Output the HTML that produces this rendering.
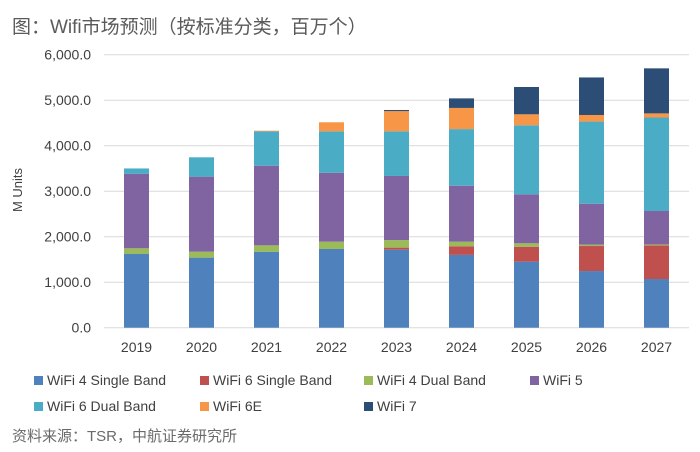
<!DOCTYPE html>
<html><head><meta charset="utf-8"><style>
body{margin:0;background:#fff;font-family:"Liberation Sans","Noto Sans CJK SC",sans-serif;}
#wrap{position:relative;width:700px;height:452px;overflow:hidden;}
.t{position:absolute;color:#595959;}
</style></head><body>
<div id="wrap">
<div class="t" style="left:12px;top:12px;font-size:19px;color:#5a5a5a;">图：Wifi市场预测（按标准分类，百万个）</div>
<svg id="chart" width="700" height="452" style="position:absolute;left:0;top:0"></svg>
<div class="t" style="left:12px;top:425px;font-size:15px;color:#6a6a6a;">资料来源：TSR，中航证券研究所</div>
</div>
<script>
const categories=["2019","2020","2021","2022","2023","2024","2025","2026","2027"];
const seriesNames=["WiFi 4 Single Band","WiFi 6 Single Band","WiFi 4 Dual Band","WiFi 5","WiFi 6 Dual Band","WiFi 6E","WiFi 7"];
const colors=["#4f81bd","#c0504d","#9bbb59","#8064a2","#4bacc6","#f79646","#2c4d75"];
const wifi4Single=[1620,1540,1670,1730,1715,1600,1450,1245,1070];
const wifi6Single=[0,0,0,0,45,190,330,550,740];
const wifi4Dual=[125,130,140,160,165,100,75,30,20];
const wifi5=[1635,1650,1750,1515,1410,1230,1075,900,735];
const wifi6Dual=[120,425,755,910,980,1245,1520,1805,2055];
const wifi6E=[0,0,15,200,445,465,240,145,90];
const wifi7=[0,0,0,0,25,210,600,825,990];
const yTicks=[0,1000,2000,3000,4000,5000,6000];
const yTickLabels=["0.0","1,000.0","2,000.0","3,000.0","4,000.0","5,000.0","6,000.0"];
const series=[wifi4Single,wifi6Single,wifi4Dual,wifi5,wifi6Dual,wifi6E,wifi7];
const svg=document.getElementById('chart');const NS='http://www.w3.org/2000/svg';
const x0=104,plotW=585,y0=327.7,pxPer=0.0455,barW=25;
const yS=v=>y0-v*pxPer;
const xS=i=>x0+plotW/categories.length*(i+0.5);
function mk(t,a){const e=document.createElementNS(NS,t);for(const k in a)e.setAttribute(k,a[k]);svg.appendChild(e);return e;}
yTicks.forEach((v,i)=>{
 const l=mk('line',{x1:x0,x2:x0+plotW,y1:yS(v),y2:yS(v),stroke:'#d9d9d9','stroke-width':1});
 
 
 const t=mk('text',{x:91,y:yS(v)+5,'text-anchor':'end','font-size':14,fill:'#404040'});t.textContent=yTickLabels[i];
 
 
});
const yt=mk('text',{x:0,y:0,transform:'translate(22,190) rotate(-90)','text-anchor':'middle','font-size':13,fill:'#404040'});yt.textContent='M Units';


categories.forEach((c,i)=>{
 let cum=0;
 series.forEach((s,j)=>{
  const v=s[i];if(v<=0)return;
  const r=mk('rect',{x:xS(i)-barW/2,y:yS(cum+v),width:barW,height:v*pxPer,fill:colors[j]});
  
  
  cum+=v;
 });
 const t=mk('text',{x:xS(i),y:352,'text-anchor':'middle','font-size':14,fill:'#404040'});t.textContent=c;
 
 
});
const lx=[34,200,364,530];
seriesNames.forEach((n,j)=>{
 const x=lx[j%4],y=j<4?381:407;
 const r=mk('rect',{x:x,y:y-5,width:9,height:9,fill:colors[j]});
 
 
 const t=mk('text',{x:x+13,y:y+4,'font-size':14,fill:'#404040'});t.textContent=n;
 
 
});
</script>
</body></html>
